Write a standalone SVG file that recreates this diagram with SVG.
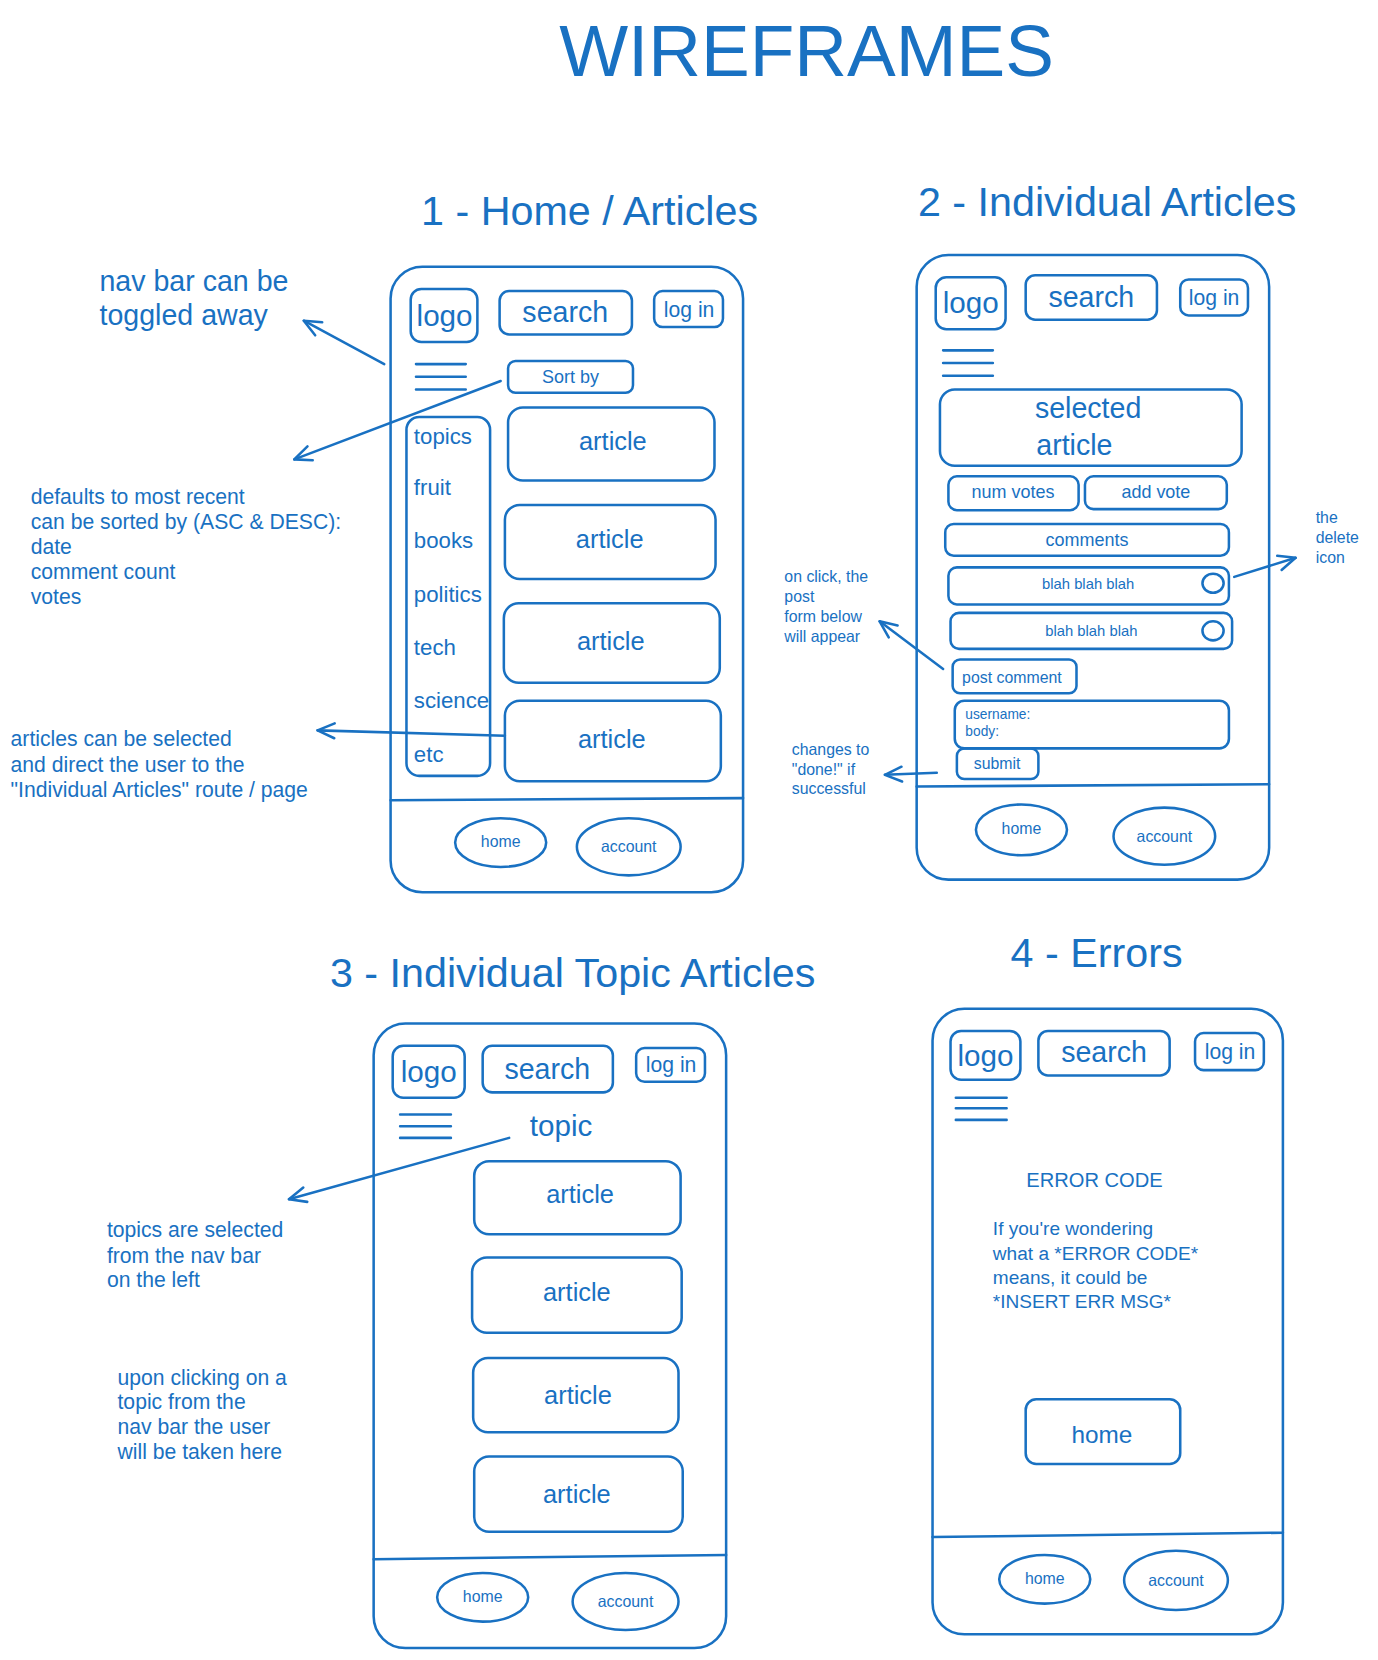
<svg xmlns="http://www.w3.org/2000/svg" width="1378" height="1660" viewBox="0 0 1378 1660">
<defs>
<style>
.s{fill:none;stroke:#1971c2;stroke-width:2.4;stroke-linecap:round;stroke-linejoin:round}
text{fill:#1971c2;font-family:"Liberation Sans",Arial,sans-serif}
.c{text-anchor:middle;dominant-baseline:central}
.l{dominant-baseline:central}
.t{font-size:39px;text-anchor:middle}
.n20{font-size:20px}
.n15{font-size:15px}
</style>
<marker id="ah" viewBox="0 0 20 20" refX="18" refY="10" markerWidth="20" markerHeight="20" markerUnits="userSpaceOnUse" orient="auto">
<path d="M2,3 L18,10 L2,17" fill="none" stroke="#1971c2" stroke-width="2.4" stroke-linecap="round" stroke-linejoin="round"/>
</marker>
</defs>
<rect width="1378" height="1660" fill="#ffffff"/>
<g transform="scale(1.0585)">
<g id="titles">
<text x="762" y="72" style="font-size:69px;text-anchor:middle">WIREFRAMES</text>
<text class="t" x="557" y="213">1 - Home / Articles</text>
<text class="t" x="1046" y="204">2 - Individual Articles</text>
<text class="t" x="541" y="932">3 - Individual Topic Articles</text>
<text class="t" x="1036" y="914">4 - Errors</text>
</g>

<g id="frame1">
<rect class="s" x="369" y="252" width="333" height="591" rx="30"/>
<path class="s" d="M369,756 L702,754"/>
<rect class="s" x="388" y="273" width="63" height="50" rx="10"/>
<text class="c" x="420" y="298" style="font-size:28px">logo</text>
<rect class="s" x="472" y="275" width="125" height="41" rx="9"/>
<text class="c" x="534" y="295" style="font-size:27px">search</text>
<rect class="s" x="618" y="275" width="65" height="34" rx="8"/>
<text class="c" x="651" y="292" style="font-size:20px">log in</text>
<path class="s" d="M393,344 H440 M393,356 H440 M393,368 H440"/>
<rect class="s" x="480" y="341" width="118" height="30" rx="7"/>
<text class="c" x="539" y="356" style="font-size:17px">Sort by</text>
<rect class="s" x="384" y="394" width="79" height="339" rx="12"/>
<g style="font-size:21px">
<text class="l" x="391" y="412">topics</text>
<text class="l" x="391" y="461">fruit</text>
<text class="l" x="391" y="511">books</text>
<text class="l" x="391" y="562">politics</text>
<text class="l" x="391" y="612">tech</text>
<text class="l" x="391" y="662">science</text>
<text class="l" x="391" y="713">etc</text>
</g>
<g style="font-size:24px">
<rect class="s" x="480" y="385" width="195" height="69" rx="14"/>
<text class="c" x="579" y="417">article</text>
<rect class="s" x="477" y="477" width="199" height="70" rx="14"/>
<text class="c" x="576" y="509">article</text>
<rect class="s" x="476" y="570" width="204" height="75" rx="14"/>
<text class="c" x="577" y="606">article</text>
<rect class="s" x="477" y="662" width="204" height="76" rx="14"/>
<text class="c" x="578" y="698">article</text>
</g>
<ellipse class="s" cx="473" cy="796" rx="43" ry="23"/>
<text class="c" x="473" y="795" style="font-size:15px">home</text>
<ellipse class="s" cx="594" cy="800" rx="49" ry="27"/>
<text class="c" x="594" y="800" style="font-size:15px">account</text>
</g>

<g id="frame2">
<rect class="s" x="866" y="241" width="333" height="590" rx="30"/>
<path class="s" d="M866,743 L1199,741"/>
<rect class="s" x="884" y="262" width="66" height="49" rx="10"/>
<text class="c" x="917" y="286" style="font-size:28px">logo</text>
<rect class="s" x="969" y="260" width="124" height="42" rx="9"/>
<text class="c" x="1031" y="281" style="font-size:27px">search</text>
<rect class="s" x="1115" y="264" width="64" height="34" rx="8"/>
<text class="c" x="1147" y="281" style="font-size:20px">log in</text>
<path class="s" d="M891,331 H938 M891,343 H938 M891,355 H938"/>
<rect class="s" x="888" y="368" width="285" height="72" rx="14"/>
<text class="c" x="1028" y="385" style="font-size:27px">selected</text>
<text class="c" x="1015" y="420" style="font-size:27px">article</text>
<rect class="s" x="896" y="450" width="123" height="32" rx="8"/>
<text class="c" x="957" y="465" style="font-size:17px">num votes</text>
<rect class="s" x="1025" y="450" width="134" height="31" rx="8"/>
<text class="c" x="1092" y="465" style="font-size:17px">add vote</text>
<rect class="s" x="893" y="495" width="268" height="30" rx="8"/>
<text class="c" x="1027" y="510" style="font-size:17px">comments</text>
<rect class="s" x="896" y="536" width="265" height="35" rx="8"/>
<text class="c" x="1028" y="552" style="font-size:14px">blah blah blah</text>
<ellipse class="s" cx="1146" cy="551" rx="10" ry="9"/>
<rect class="s" x="898" y="579" width="266" height="34" rx="8"/>
<text class="c" x="1031" y="596" style="font-size:14px">blah blah blah</text>
<ellipse class="s" cx="1146" cy="596" rx="10" ry="9"/>
<rect class="s" x="900" y="623" width="117" height="32" rx="7"/>
<text class="c" x="956" y="640" style="font-size:15px">post comment</text>
<rect class="s" x="902" y="662" width="259" height="45" rx="9"/>
<text class="l" x="912" y="675" style="font-size:13px">username:</text>
<text class="l" x="912" y="691" style="font-size:13px">body:</text>
<rect class="s" x="904" y="707" width="77" height="29" rx="7"/>
<text class="c" x="942" y="721" style="font-size:15px">submit</text>
<ellipse class="s" cx="965" cy="784" rx="43" ry="24"/>
<text class="c" x="965" y="783" style="font-size:15px">home</text>
<ellipse class="s" cx="1100" cy="790" rx="48" ry="27"/>
<text class="c" x="1100" y="790" style="font-size:15px">account</text>
</g>

<g id="frame3">
<rect class="s" x="353" y="967" width="333" height="590" rx="30"/>
<path class="s" d="M353,1473 L686,1469"/>
<rect class="s" x="371" y="988" width="68" height="49" rx="10"/>
<text class="c" x="405" y="1012" style="font-size:28px">logo</text>
<rect class="s" x="456" y="988" width="123" height="44" rx="9"/>
<text class="c" x="517" y="1010" style="font-size:27px">search</text>
<rect class="s" x="601" y="990" width="65" height="32" rx="8"/>
<text class="c" x="634" y="1006" style="font-size:20px">log in</text>
<path class="s" d="M378,1053 H426 M378,1064 H426 M378,1075 H426"/>
<text class="c" x="530" y="1063" style="font-size:28px">topic</text>
<g style="font-size:24px">
<rect class="s" x="448" y="1097" width="195" height="69" rx="14"/>
<text class="c" x="548" y="1128">article</text>
<rect class="s" x="446" y="1188" width="198" height="71" rx="14"/>
<text class="c" x="545" y="1221">article</text>
<rect class="s" x="447" y="1283" width="194" height="70" rx="14"/>
<text class="c" x="546" y="1318">article</text>
<rect class="s" x="448" y="1376" width="197" height="71" rx="14"/>
<text class="c" x="545" y="1411">article</text>
</g>
<ellipse class="s" cx="456" cy="1509" rx="43" ry="23"/>
<text class="c" x="456" y="1508" style="font-size:15px">home</text>
<ellipse class="s" cx="591" cy="1513" rx="50" ry="27"/>
<text class="c" x="591" y="1513" style="font-size:15px">account</text>
</g>

<g id="frame4">
<rect class="s" x="881" y="953" width="331" height="591" rx="30"/>
<path class="s" d="M881,1452 L1212,1448"/>
<rect class="s" x="898" y="974" width="66" height="46" rx="10"/>
<text class="c" x="931" y="997" style="font-size:28px">logo</text>
<rect class="s" x="981" y="974" width="124" height="42" rx="9"/>
<text class="c" x="1043" y="994" style="font-size:27px">search</text>
<rect class="s" x="1129" y="976" width="65" height="35" rx="8"/>
<text class="c" x="1162" y="993" style="font-size:20px">log in</text>
<path class="s" d="M903,1037 H951 M903,1047 H951 M903,1058 H951"/>
<text class="c" x="1034" y="1115" style="font-size:19px">ERROR CODE</text>
<g style="font-size:18px">
<text class="l" x="938" y="1161">If you're wondering</text>
<text class="l" x="938" y="1184">what a *ERROR CODE*</text>
<text class="l" x="938" y="1207">means, it could be</text>
<text class="l" x="938" y="1230">*INSERT ERR MSG*</text>
</g>
<rect class="s" x="969" y="1322" width="146" height="61" rx="10"/>
<text class="c" x="1041" y="1355" style="font-size:23px">home</text>
<ellipse class="s" cx="987" cy="1492" rx="43" ry="23"/>
<text class="c" x="987" y="1491" style="font-size:15px">home</text>
<ellipse class="s" cx="1111" cy="1493" rx="49" ry="28"/>
<text class="c" x="1111" y="1493" style="font-size:15px">account</text>
</g>

<g id="notes">
<text class="l" x="94" y="265" style="font-size:27px">nav bar can be</text>
<text class="l" x="94" y="298" style="font-size:27px">toggled away</text>
<g class="n20">
<text class="l" x="29" y="469">defaults to most recent</text>
<text class="l" x="29" y="493">can be sorted by (ASC &amp; DESC):</text>
<text class="l" x="29" y="516">date</text>
<text class="l" x="29" y="540">comment count</text>
<text class="l" x="29" y="564">votes</text>
<text class="l" x="10" y="698">articles can be selected</text>
<text class="l" x="10" y="722">and direct the user to the</text>
<text class="l" x="10" y="746">"Individual Articles" route / page</text>
<text class="l" x="101" y="1162">topics are selected</text>
<text class="l" x="101" y="1186">from the nav bar</text>
<text class="l" x="101" y="1209">on the left</text>
<text class="l" x="111" y="1301">upon clicking on a</text>
<text class="l" x="111" y="1324">topic from the</text>
<text class="l" x="111" y="1348">nav bar the user</text>
<text class="l" x="111" y="1371">will be taken here</text>
</g>
<g class="n15">
<text class="l" x="741" y="545">on click, the</text>
<text class="l" x="741" y="564">post</text>
<text class="l" x="741" y="582">form below</text>
<text class="l" x="741" y="601">will appear</text>
<text class="l" x="748" y="708">changes to</text>
<text class="l" x="748" y="727">"done!" if</text>
<text class="l" x="748" y="745">successful</text>
<text class="l" x="1243" y="489">the</text>
<text class="l" x="1243" y="508">delete</text>
<text class="l" x="1243" y="527">icon</text>
</g>
</g>

<g id="connectors">
<path class="s" d="M363,344 L287,303" marker-end="url(#ah)"/>
<path class="s" d="M473,360 L278,434" marker-end="url(#ah)"/>
<path class="s" d="M477,695 L300,690" marker-end="url(#ah)"/>
<path class="s" d="M1166,545 L1224,527" marker-end="url(#ah)"/>
<path class="s" d="M891,632 L831,587" marker-end="url(#ah)"/>
<path class="s" d="M885,730 L836,732" marker-end="url(#ah)"/>
<path class="s" d="M481,1075 L273,1133" marker-end="url(#ah)"/>
</g>
</g>
</svg>
